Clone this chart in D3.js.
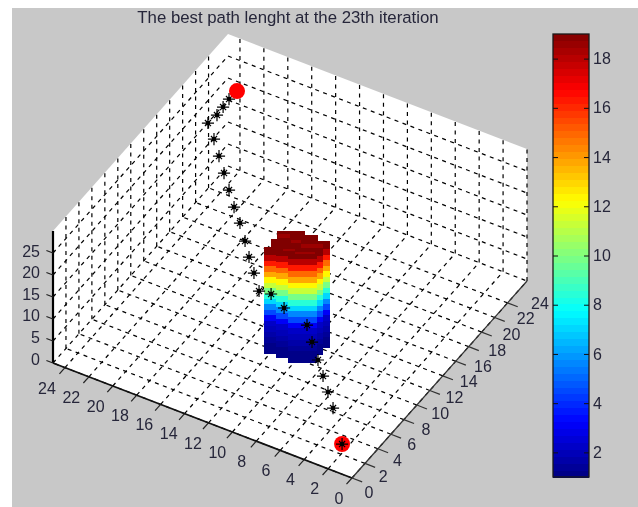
<!DOCTYPE html>
<html><head><meta charset="utf-8">
<script src="https://cdn.jsdelivr.net/npm/d3@7"></script>
<style>html,body{margin:0;padding:0;background:#fff}svg{display:block;filter:blur(0.6px)}text{font-family:"Liberation Sans",Arial,sans-serif;fill:#26263a}</style>
</head><body><svg id="c" width="638" height="507"></svg>
<script>
const title = "The best path lenght at the 23th iteration";
const xTicks = [0,2,4,6,8,10,12,14,16,18,20,22,24];
const yTicks = [0,2,4,6,8,10,12,14,16,18,20,22,24];
const zTicks = [0,5,10,15,20,25];
const zGrid = [0,5,10,15,20,25];
const cbTicks = [2,4,6,8,10,12,14,16,18];
const xMax = 25, yMax = 27, zMax = 30;
const cMin = 1, cMax = 19;
const pathX = [2.5,4.81,5.77,6.72,7.68,8.80,9.81,11.94,13.28,13.95,15.02,15.97,16.86,17.93,18.94,19.95,20.96,21.97,22.98,24.0,23.39,23.21,23.04];
const pathY = [3.08,5.95,6.94,7.93,8.92,10.07,11.16,11.55,12.02,11.40,12.59,13.58,14.61,15.80,16.75,17.84,18.93,20.02,21.11,22.06,22.33,22.94,23.54];
const pathZ = [0,1,2,3,4,5,6,7,8,9,10,11,12,13,14,15,16,17,18,19,21,22,23];
const endPoint = [22.74,24.22,24];
const cylEdgeX = [12.40,11.40,10.40,8.60,8.60,8.60];
const cylEdgeY = [9.31,9.31,9.31,10.47,11.47,12.47];
const cylBottomEdge = [0,1,2,4,5];
const cylTopZ = [22.3,23.1,23.4,22.4,22.4];
const bandLevels = [1,1,1.3,1.6,2,2.4,3,4.4,5.7,7,8.5,9.9,11.3,12.5,13.7,15,16.3,18];
const capX = [12.68,12.69,12.74,10.78,9.65,8.90];
const capY = [9.83,10.92,11.95,12.64,12.57,13.04];
const capZ = 23;
const patchX0 = [12.51,11.37,11.37,10.53,10.46];
const patchY0 = [11.68,11.58,10.34,11.56,10.51];
const patchX1 = [11.55,10.58,10.51,8.94,9.10];
const patchY1 = [11.74,11.66,10.61,12.02,11.09];

const svg = d3.select("#c");
const ox = 352, oy = 478;
const pxX = d3.scaleLinear([0,xMax],[0,-299]);
const pyX = d3.scaleLinear([0,xMax],[0,-115]);
const pxY = d3.scaleLinear([0,yMax],[0,175]);
const pyY = d3.scaleLinear([0,yMax],[0,-197]);
const pyZ = d3.scaleLinear([0,zMax],[0,-132]);
const P = (x,y,z=0)=>[ox+pxX(x)+pxY(y), oy+pyX(x)+pyY(y)+pyZ(z)];
const jetStops = [[0,"#000080"],[0.125,"#0000ff"],[0.375,"#00ffff"],[0.625,"#ffff00"],[0.875,"#ff0000"],[1,"#800000"]];
const jetRaw = d3.scaleLinear(jetStops.map(d=>d[0]),jetStops.map(d=>d[1]));
const jet = v=>{const t=(v-cMin)/(cMax-cMin);const i=Math.min(63,Math.floor(t*64));return jetRaw((i+0.5)/64);};

// background
svg.append("rect").attr("width",638).attr("height",507).attr("fill","#fff");
svg.append("rect").attr("x",12).attr("y",8).attr("width",626).attr("height",499).attr("fill","#c8c8c8");
// box
const corners=[P(xMax,0),P(0,0),P(0,yMax),P(0,yMax,zMax),P(xMax,yMax,zMax),P(xMax,0,zMax)];
svg.append("polygon").attr("points",corners.map(d=>d.join(",")).join(" ")).attr("fill","#fff");
// grid
const grid=svg.append("g").attr("stroke","#000").attr("stroke-width",1.2).attr("stroke-dasharray","4 4.5").attr("fill","none");
const seg=(g,a,b,)=>g.append("line").attr("x1",a[0]).attr("y1",a[1]).attr("x2",b[0]).attr("y2",b[1]);
xTicks.forEach(x=>{seg(grid,P(x,0),P(x,yMax));seg(grid,P(x,yMax),P(x,yMax,zMax));});
yTicks.forEach(y=>{seg(grid,P(0,y),P(xMax,y));seg(grid,P(xMax,y),P(xMax,y,zMax));});
zGrid.forEach(z=>{seg(grid,P(xMax,0,z),P(xMax,yMax,z));seg(grid,P(xMax,yMax,z),P(0,yMax,z));});
// axes
const ax=svg.append("g").attr("fill","none");
seg(ax,P(xMax,0),P(xMax,0,zMax)).attr("stroke","#000").attr("stroke-width",2.2);
seg(ax,P(0,0),P(xMax,0)).attr("stroke","#111").attr("stroke-width",1.8);
seg(ax,P(0,0),P(0,yMax)).attr("stroke","#333").attr("stroke-width",1.3);
xTicks.forEach(x=>seg(ax,P(x,0),P(x,-0.85)).attr("stroke","#222").attr("stroke-width",1.2));
yTicks.forEach(y=>seg(ax,P(0,y),P(-0.85,y)).attr("stroke","#333").attr("stroke-width",1.2));
zTicks.forEach(z=>seg(ax,P(xMax,0,z),P(xMax+0.55,0,z)).attr("stroke","#222").attr("stroke-width",1.2));
// tick labels
const lab=svg.append("g").attr("font-size",16);
const xlx=d3.scaleLinear([0,24],[339,47]), xly=d3.scaleLinear([0,24],[498,388]);
xTicks.forEach(t=>lab.append("text").attr("x",xlx(t)).attr("y",xly(t)).attr("text-anchor","middle").attr("dominant-baseline","central").text(t));
const ylx=d3.scaleLinear([0,24],[369,540]), yly=d3.scaleLinear([0,24],[492,303]);
yTicks.forEach(t=>lab.append("text").attr("x",ylx(t)).attr("y",yly(t)).attr("text-anchor","middle").attr("dominant-baseline","central").text(t));
const zly=d3.scaleLinear([0,25],[359,251]);
zTicks.forEach(t=>lab.append("text").attr("x",40).attr("y",zly(t)).attr("text-anchor","end").attr("dominant-baseline","central").text(t));
// cylinder cap
const cyl=svg.append("g").attr("shape-rendering","crispEdges");
const capBottom=P(cylEdgeX[2],cylEdgeY[2],21)[1];
capX.slice(0,-1).forEach((x,i)=>{
  const a=P(x,capY[i],capZ), b=P(capX[i+1],capY[i+1],capZ);
  cyl.append("rect").attr("x",a[0]).attr("y",a[1]).attr("width",b[0]-a[0]).attr("height",capBottom-a[1]).attr("fill","#800000");
});
patchX0.forEach((x,i)=>{
  const a=P(x,patchY0[i],capZ), b=P(patchX1[i],patchY1[i],capZ);
  cyl.append("rect").attr("x",a[0]).attr("y",a[1]).attr("width",b[0]-a[0]).attr("height",b[1]-a[1]).attr("fill","#9c0000");
});
// cylinder side bands
cylBottomEdge.forEach((e,i)=>{
  const left=P(cylEdgeX[i],cylEdgeY[i])[0], right=P(cylEdgeX[i+1],cylEdgeY[i+1])[0];
  const base=P(cylEdgeX[e],cylEdgeY[e])[1];
  const bandPx=d3.scaleLinear([0,bandLevels.length],[base,base+pyZ(cylTopZ[i])]);
  bandLevels.forEach((v,k)=>{
    cyl.append("rect").attr("x",left).attr("width",right-left).attr("y",bandPx(k+1)).attr("height",bandPx(k)-bandPx(k+1)+0.5).attr("fill",jet(v));
  });
});
// path
const pts=svg.append("g");
pathX.forEach((x,i)=>{
  const p=P(x,pathY[i],pathZ[i]);
  if(i===0) pts.append("circle").attr("cx",p[0]).attr("cy",p[1]).attr("r",8).attr("fill","#ff0000");
  const g=pts.append("g").attr("transform",`translate(${p[0]},${p[1]})`);
  g.append("path").attr("d",d3.symbol(d3.symbolPlus,50)()).attr("stroke","#000").attr("stroke-width",1.2).attr("fill","none");
  g.append("path").attr("d",d3.symbol(d3.symbolX,26)()).attr("stroke","#000").attr("stroke-width",1.2).attr("fill","none");
  g.append("circle").attr("r",2.2).attr("fill","#000");
});
const e=P(...endPoint);
pts.append("circle").attr("cx",e[0]).attr("cy",e[1]).attr("r",8).attr("fill","#ff0000");
// title
svg.append("text").attr("x",288).attr("y",23).attr("text-anchor","middle").attr("font-size",16.8).text(title);
// colorbar
const cb=d3.scaleLinear([cMin,cMax],[477,34]);
const cbX0=553, cbX1=589;
const levels=d3.range(64);
svg.append("g").attr("shape-rendering","crispEdges").selectAll("rect").data(levels).join("rect")
  .attr("x",cbX0).attr("width",cbX1-cbX0)
  .attr("y",d=>cb(cMin+(d+1)*(cMax-cMin)/64))
  .attr("height",d=>cb(cMin+d*(cMax-cMin)/64)-cb(cMin+(d+1)*(cMax-cMin)/64)+0.5)
  .attr("fill",d=>jet(cMin+(d+0.5)*(cMax-cMin)/64));
svg.append("rect").attr("x",cbX0).attr("y",34).attr("width",cbX1-cbX0).attr("height",443).attr("fill","none").attr("stroke","#1a1a1a").attr("stroke-width",1.3);
const ar=svg.append("g").attr("transform",`translate(${cbX1},0)`).call(d3.axisRight(cb).tickValues(cbTicks).tickSize(-5).tickPadding(4).tickFormat(d3.format("d")));
const al=svg.append("g").attr("transform",`translate(${cbX0},0)`).call(d3.axisLeft(cb).tickValues(cbTicks).tickSize(-5).tickFormat(""));
[ar,al].forEach(a=>{a.select(".domain").remove();a.selectAll("line").attr("stroke","#111");});
ar.attr("font-family",null).attr("font-size",16);
</script></body></html>
